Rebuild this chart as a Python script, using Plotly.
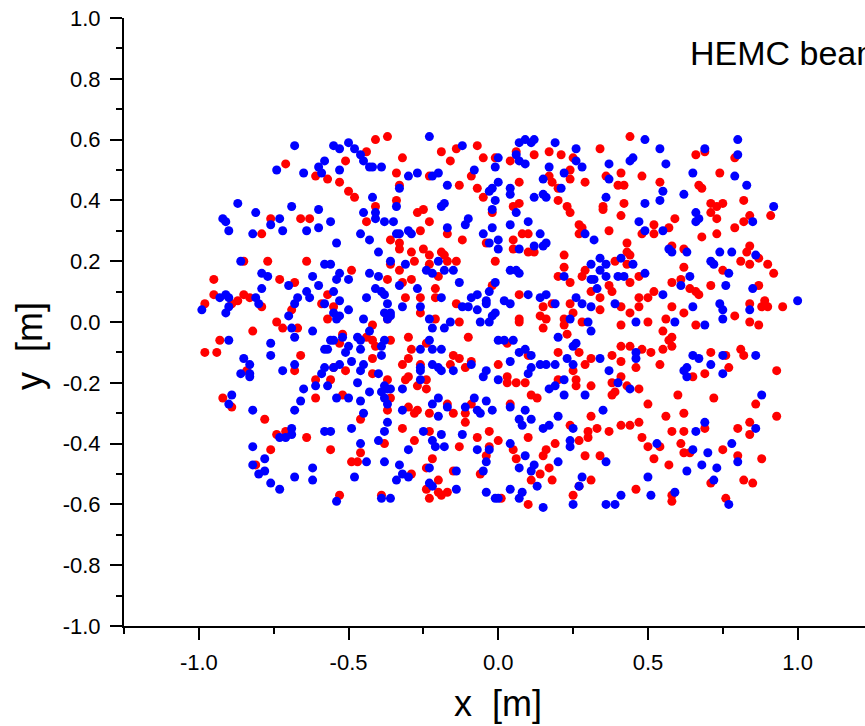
import plotly.graph_objects as go

# ---- data (x, y in metres) ----
red_x = [-0.71,-0.61,-0.57,-0.53,-0.76,-0.66,-0.63,-0.79,-0.85,-0.77,-0.64,-0.95,-0.73,-0.68,-0.95,-0.85,-0.98,-0.89,-0.87,-0.83,-0.79,-0.57,-0.59,-0.55,-0.69,
 -0.41,-0.37,-0.44,-0.51,-0.19,-0.14,-0.16,-0.07,-0.05,-0.01,-0.32,-0.34,-0.33,-0.23,-0.13,-0.09,-0.07,-0.05,-0.50,-0.48,-0.34,-0.41,-0.44,-0.27,-0.25,-0.23,-0.26,-0.17,-0.12,-0.36,-0.33,-0.33,-0.29,-0.25,-0.23,-0.28,-0.19,-0.18,-0.14,-0.17,-0.23,-0.36,-0.33,-0.49,-0.37,-0.32,-0.29,-0.20,-0.21,-0.31,-0.26,-0.21,-0.26,-0.14,-0.01,-0.02,-0.04,-0.02,
 0.06,0.04,0.12,0.17,0.21,0.25,0.34,0.44,0.24,0.29,0.24,0.17,0.18,0.20,0.20,0.07,0.36,0.41,0.40,0.42,0.48,0.07,0.05,0.23,0.24,0.35,0.35,0.42,0.41,0.27,0.28,0.27,0.37,0.48,0.08,0.10,0.05,0.05,0.10,0.12,0.22,0.22,0.20,0.24,0.29,0.28,0.39,0.43,0.43,0.44,0.43,0.47,0.44,0.37,0.38,0.31,0.34,0.47,0.50,0.41,0.47,0.44,0.34,0.24,0.25,0.18,0.15,0.14,0.07,
 0.66,0.69,0.79,0.54,0.74,0.67,0.68,0.71,0.73,0.75,0.82,0.71,0.73,0.84,0.82,0.91,0.79,0.73,0.68,0.59,0.57,0.52,0.52,0.58,0.62,0.62,0.84,0.83,0.87,0.81,0.84,0.90,0.92,0.75,0.61,0.58,0.64,0.66,0.67,0.71,0.87,0.52,0.58,0.62,0.84,0.89,0.90,0.88,0.95,
 -0.57,-0.74,-0.72,-0.67,-0.82,-0.93,-0.98,-0.94,-0.66,-0.68,-0.84,-0.61,-0.56,-0.61,-0.52,-0.92,-0.89,-0.78,-0.74,-0.71,-0.64,-0.76,-0.56,-0.81,-0.53,-0.52,-0.53,-0.51,-0.55,
 -0.42,-0.37,-0.21,-0.13,-0.44,-0.42,-0.41,-0.36,-0.30,-0.10,-0.29,-0.24,-0.42,-0.42,-0.32,-0.30,-0.26,-0.30,-0.31,-0.24,-0.27,-0.24,-0.37,-0.36,-0.37,-0.15,-0.13,-0.16,-0.09,-0.11,0.00,-0.46,-0.30,-0.28,-0.27,-0.23,-0.17,-0.15,-0.11,-0.11,-0.09,-0.32,-0.23,-0.28,-0.38,-0.13,-0.07,-0.03,0.00,-0.03,-0.04,-0.06,-0.46,-0.49,-0.47,-0.22,-0.24,-0.29,-0.15,-0.20,-0.24,-0.23,-0.20,-0.19,-0.17,-0.39,
 0.07,0.07,0.16,0.15,0.22,0.22,0.28,0.23,0.41,0.50,0.03,0.10,0.20,0.27,0.29,0.25,0.31,0.38,0.41,0.44,0.48,0.51,0.41,0.46,0.41,0.38,0.39,0.38,0.43,0.47,0.03,0.03,0.06,0.09,0.20,0.26,0.26,0.31,0.11,0.13,0.04,0.31,0.24,0.33,0.30,0.30,0.37,0.41,0.44,0.47,0.50,0.48,0.50,0.27,0.19,0.10,0.05,0.06,0.16,0.15,0.17,0.14,0.11,0.18,0.29,0.34,0.31,0.27,0.25,0.10,0.01,0.46,
 0.56,0.79,0.66,0.84,0.87,0.55,0.58,0.57,0.58,0.55,0.71,0.81,0.82,0.76,0.77,0.54,0.65,0.69,0.93,0.60,0.72,0.86,0.56,0.62,0.58,0.62,0.69,0.80,0.84,0.84,0.93,0.54,0.61,0.62,0.64,0.75,0.80,0.88,0.52,0.57,0.71,0.82,0.85,0.58,0.58,0.76]
red_y = [0.52,0.48,0.47,0.46,0.34,0.34,0.34,0.29,0.20,0.20,0.20,0.14,0.14,0.13,0.09,0.09,0.06,0.06,0.07,0.08,0.05,0.09,0.06,0.05,0.04,
 0.60,0.61,0.56,0.53,0.56,0.57,0.53,0.58,0.54,0.54,0.54,0.49,0.45,0.48,0.45,0.48,0.44,0.41,0.43,0.41,0.40,0.38,0.33,0.36,0.37,0.33,0.30,0.29,0.27,0.27,0.26,0.24,0.23,0.24,0.22,0.20,0.23,0.22,0.20,0.20,0.19,0.19,0.17,0.17,0.14,0.13,0.14,0.15,0.11,0.08,0.08,0.08,0.03,0.06,0.20,0.12,0.26,0.36,
 0.56,0.53,0.55,0.56,0.55,0.54,0.57,0.61,0.50,0.46,0.47,0.48,0.46,0.44,0.40,0.46,0.48,0.49,0.45,0.45,0.48,0.39,0.38,0.38,0.36,0.38,0.37,0.39,0.35,0.32,0.31,0.29,0.30,0.29,0.29,0.29,0.27,0.24,0.23,0.23,0.22,0.18,0.15,0.13,0.17,0.15,0.20,0.26,0.23,0.22,0.19,0.15,0.13,0.12,0.10,0.10,0.08,0.08,0.08,0.05,0.05,0.03,0.04,0.06,0.03,0.06,0.05,0.02,0.09,
 0.55,0.56,0.54,0.46,0.49,0.45,0.44,0.39,0.38,0.39,0.40,0.36,0.34,0.35,0.33,0.35,0.31,0.29,0.28,0.34,0.31,0.32,0.29,0.25,0.24,0.18,0.25,0.23,0.21,0.20,0.19,0.19,0.16,0.17,0.14,0.13,0.11,0.10,0.09,0.12,0.12,0.10,0.05,0.03,0.06,0.07,0.05,0.05,0.05,
 0.01,0.00,-0.02,-0.02,-0.03,-0.06,-0.10,-0.10,-0.11,-0.16,-0.16,-0.19,-0.19,-0.25,-0.24,-0.25,-0.28,-0.32,-0.37,-0.36,-0.38,-0.42,-0.42,-0.47,-0.57,-0.04,-0.07,-0.16,-0.15,
 -0.01,0.01,0.01,0.00,-0.05,-0.06,-0.08,-0.06,-0.05,-0.05,-0.09,-0.07,-0.12,-0.17,-0.14,-0.12,-0.14,-0.18,-0.19,-0.19,-0.21,-0.22,-0.19,-0.25,-0.29,-0.11,-0.12,-0.14,-0.13,-0.15,-0.14,-0.32,-0.28,-0.30,-0.29,-0.30,-0.27,-0.30,-0.30,-0.33,-0.27,-0.35,-0.36,-0.39,-0.40,-0.41,-0.38,-0.36,-0.39,-0.41,-0.44,-0.50,-0.43,-0.46,-0.46,-0.45,-0.48,-0.50,-0.49,-0.52,-0.55,-0.58,-0.56,-0.57,-0.56,-0.57,
 0.01,0.00,0.01,-0.02,0.01,-0.01,0.00,-0.04,-0.01,0.00,-0.07,-0.11,-0.10,-0.10,-0.14,-0.16,-0.12,-0.11,-0.08,-0.08,-0.09,-0.10,-0.13,-0.15,-0.18,-0.20,-0.23,-0.24,-0.21,-0.22,-0.18,-0.20,-0.20,-0.20,-0.19,-0.19,-0.21,-0.21,-0.24,-0.25,-0.27,-0.31,-0.34,-0.35,-0.36,-0.38,-0.36,-0.34,-0.34,-0.33,-0.27,-0.38,-0.41,-0.39,-0.40,-0.38,-0.42,-0.45,-0.42,-0.44,-0.48,-0.50,-0.52,-0.52,-0.44,-0.44,-0.52,-0.54,-0.57,-0.60,-0.58,-0.55,
 0.01,0.02,-0.01,0.00,-0.01,-0.03,-0.05,-0.06,-0.08,-0.09,-0.10,-0.09,-0.11,-0.11,-0.15,-0.14,-0.18,-0.17,-0.16,-0.24,-0.25,-0.27,-0.31,-0.30,-0.36,-0.36,-0.35,-0.35,-0.33,-0.37,-0.31,-0.41,-0.40,-0.43,-0.43,-0.42,-0.44,-0.45,-0.45,-0.47,-0.53,-0.52,-0.53,-0.57,-0.59,-0.58]

blue_x = [-0.68,-0.55,-0.53,-0.58,-0.60,-0.59,-0.53,-0.74,-0.65,-0.87,-0.81,-0.92,-0.91,-0.90,-0.76,-0.73,-0.72,-0.69,-0.60,-0.64,-0.60,-0.56,-0.82,-0.54,-0.86,-0.58,-0.56,-0.53,-0.54,-0.79,-0.77,-0.62,-0.60,-0.70,-0.79,-0.55,-0.53,-0.64,-0.63,-0.67,-0.68,-0.91,-0.93,-0.90,-0.90,-0.91,-0.99,-0.81,-0.80,-0.58,-0.55,-0.53,
 -0.50,-0.48,-0.46,-0.45,-0.43,-0.42,-0.39,-0.23,-0.12,-0.30,-0.27,-0.22,-0.20,-0.17,-0.33,-0.08,-0.01,0.00,-0.03,-0.02,-0.01,-0.02,-0.42,-0.41,-0.45,-0.41,-0.38,-0.35,-0.34,-0.19,-0.18,-0.10,-0.11,-0.17,-0.46,-0.43,-0.34,-0.33,-0.30,-0.29,-0.40,-0.36,-0.31,-0.24,-0.22,-0.20,-0.18,-0.15,-0.05,-0.02,-0.03,0.00,0.00,-0.43,-0.40,-0.41,-0.39,-0.38,-0.37,-0.36,-0.38,-0.44,-0.50,-0.33,-0.27,-0.32,-0.26,-0.19,-0.13,-0.12,-0.10,-0.09,-0.07,-0.07,-0.04,-0.03,-0.01,-0.04,-0.01,-0.50,
 0.07,0.09,0.11,0.12,0.19,0.00,0.06,0.07,0.09,0.26,0.26,0.28,0.17,0.22,0.15,0.21,0.37,0.37,0.44,0.45,0.49,0.04,0.04,0.12,0.15,0.16,0.36,0.49,0.06,0.04,0.10,0.14,0.16,0.12,0.15,0.07,0.29,0.32,0.47,0.49,0.04,0.06,0.07,0.22,0.31,0.34,0.36,0.34,0.36,0.31,0.32,0.41,0.45,0.40,0.42,0.49,0.33,0.10,0.14,0.16,0.19,0.02,0.04,0.26,0.28,0.31,0.39,
 0.80,0.54,0.69,0.80,0.56,0.65,0.79,0.83,0.55,0.54,0.62,0.92,0.66,0.67,0.66,0.85,0.55,0.57,0.58,0.63,0.74,0.78,0.71,0.72,0.77,0.86,0.64,0.61,0.76,0.85,0.55,0.65,0.74,0.75,0.84,1.00,
 -0.70,-0.54,-0.90,-0.69,-0.68,-0.62,-0.56,-0.55,-0.58,-0.57,-0.52,-0.51,-0.76,-0.76,-0.85,-0.83,-0.86,-0.83,-0.83,-0.72,-0.68,-0.58,-0.55,-0.53,-0.59,-0.61,-0.57,-0.65,-0.54,-0.66,-0.68,-0.89,-0.90,-0.82,-0.73,-0.71,-0.69,-0.69,-0.58,-0.56,-0.82,-0.78,-0.82,-0.78,-0.80,-0.76,-0.73,-0.68,-0.62,-0.62,-0.54,
 -0.45,-0.37,-0.36,-0.23,-0.22,-0.18,-0.16,-0.06,-0.03,-0.02,-0.43,-0.47,-0.46,-0.38,-0.50,-0.46,-0.39,-0.39,-0.49,-0.45,-0.46,-0.40,-0.47,-0.50,-0.46,-0.43,-0.45,-0.38,-0.37,-0.38,-0.37,-0.39,-0.36,-0.32,-0.26,-0.23,-0.22,-0.19,-0.26,-0.26,-0.26,-0.22,-0.20,-0.19,-0.15,-0.09,-0.04,-0.05,0.00,0.00,-0.32,-0.22,-0.20,-0.20,-0.17,-0.11,-0.08,-0.07,-0.06,-0.04,-0.02,-0.37,-0.38,-0.49,-0.46,-0.40,-0.25,-0.19,-0.22,-0.21,-0.18,-0.30,-0.12,-0.07,-0.03,-0.04,-0.05,-0.44,-0.38,-0.33,-0.48,-0.34,-0.32,-0.30,-0.23,-0.23,-0.22,-0.14,-0.14,-0.04,-0.01,-0.39,-0.36,
 0.24,0.30,0.31,0.46,0.02,0.05,0.07,0.09,0.11,0.04,0.11,0.10,0.14,0.16,0.19,0.20,0.26,0.25,0.23,0.25,0.34,0.37,0.46,0.46,0.17,0.19,0.22,0.22,0.29,0.40,0.44,0.04,0.09,0.11,0.07,0.08,0.20,0.17,0.15,0.25,0.35,0.24,0.24,0.04,0.09,0.07,0.12,0.11,0.20,0.36,0.28,0.27,0.13,0.04,0.08,0.07,0.00,0.15,0.25,0.36,0.39,0.41,0.50,0.51,
 0.59,0.69,0.75,0.65,0.67,0.75,0.86,0.71,0.63,0.62,0.63,0.75,0.88,0.69,0.66,0.86,0.53,0.65,0.70,0.78,0.80,0.68,0.73,0.63,0.72,0.59,0.77]
blue_y = [0.58,0.58,0.57,0.53,0.51,0.49,0.50,0.50,0.49,0.39,0.36,0.34,0.33,0.30,0.32,0.34,0.30,0.38,0.37,0.30,0.31,0.33,0.29,0.26,0.20,0.19,0.19,0.16,0.14,0.16,0.15,0.15,0.12,0.12,0.11,0.10,0.07,0.10,0.08,0.08,0.06,0.09,0.08,0.08,0.05,0.03,0.04,0.08,0.06,0.06,0.03,0.02,
 0.59,0.57,0.55,0.53,0.51,0.51,0.51,0.61,0.58,0.48,0.49,0.48,0.49,0.45,0.44,0.50,0.51,0.46,0.43,0.44,0.40,0.37,0.41,0.36,0.36,0.34,0.33,0.33,0.38,0.38,0.39,0.34,0.32,0.31,0.29,0.27,0.29,0.29,0.30,0.29,0.23,0.20,0.19,0.17,0.16,0.20,0.17,0.17,0.29,0.31,0.26,0.27,0.24,0.16,0.15,0.11,0.10,0.09,0.06,0.03,0.03,0.08,0.14,0.12,0.11,0.05,0.05,0.08,0.13,0.05,0.05,0.08,0.09,0.04,0.07,0.10,0.13,0.06,0.03,0.04,
 0.59,0.60,0.59,0.60,0.59,0.54,0.55,0.53,0.52,0.57,0.53,0.51,0.51,0.49,0.47,0.44,0.52,0.47,0.53,0.54,0.60,0.44,0.42,0.41,0.42,0.41,0.41,0.39,0.36,0.32,0.33,0.29,0.26,0.25,0.25,0.24,0.29,0.27,0.33,0.30,0.17,0.17,0.16,0.15,0.19,0.21,0.19,0.17,0.15,0.14,0.14,0.21,0.19,0.15,0.15,0.16,0.11,0.09,0.08,0.09,0.06,0.07,0.06,0.08,0.06,0.05,0.06,
 0.60,0.57,0.57,0.55,0.52,0.49,0.48,0.45,0.43,0.40,0.42,0.38,0.36,0.34,0.33,0.33,0.30,0.24,0.23,0.23,0.23,0.23,0.20,0.19,0.16,0.22,0.15,0.12,0.12,0.11,0.09,0.05,0.06,0.04,0.04,0.07,
 0.02,0.01,-0.06,-0.02,-0.05,-0.03,-0.06,-0.06,-0.09,-0.09,-0.05,-0.10,-0.07,-0.11,-0.12,-0.14,-0.17,-0.17,-0.18,-0.16,-0.14,-0.15,-0.15,-0.14,-0.17,-0.21,-0.21,-0.22,-0.25,-0.26,-0.29,-0.24,-0.27,-0.29,-0.38,-0.38,-0.35,-0.37,-0.36,-0.36,-0.41,-0.45,-0.47,-0.49,-0.50,-0.53,-0.55,-0.51,-0.48,-0.52,-0.59,
 0.01,0.01,0.02,0.01,-0.02,-0.02,0.00,0.00,0.00,0.02,-0.03,-0.05,-0.06,-0.06,-0.08,-0.09,-0.08,-0.11,-0.13,-0.14,-0.16,-0.17,-0.20,-0.25,-0.26,-0.23,-0.30,-0.21,-0.22,-0.25,-0.27,-0.23,-0.22,-0.22,-0.09,-0.06,-0.09,-0.09,-0.15,-0.16,-0.19,-0.14,-0.15,-0.16,-0.16,-0.14,-0.16,-0.18,-0.19,-0.06,-0.29,-0.27,-0.25,-0.31,-0.28,-0.28,-0.25,-0.29,-0.30,-0.26,-0.29,-0.33,-0.36,-0.35,-0.40,-0.39,-0.36,-0.37,-0.39,-0.41,-0.41,-0.42,-0.37,-0.42,-0.42,-0.46,-0.49,-0.46,-0.46,-0.47,-0.51,-0.52,-0.50,-0.51,-0.48,-0.53,-0.54,-0.49,-0.55,-0.56,-0.58,-0.58,-0.58,
 0.01,0.00,-0.03,0.00,-0.06,-0.06,-0.10,-0.09,-0.11,-0.13,-0.15,-0.17,-0.14,-0.14,-0.14,-0.05,-0.07,-0.08,-0.12,-0.14,-0.12,-0.16,-0.10,-0.12,-0.22,-0.21,-0.19,-0.24,-0.24,-0.20,-0.22,-0.28,-0.29,-0.32,-0.32,-0.34,-0.31,-0.34,-0.35,-0.35,-0.29,-0.39,-0.41,-0.40,-0.44,-0.48,-0.47,-0.49,-0.46,-0.46,-0.51,-0.54,-0.54,-0.55,-0.56,-0.58,-0.58,-0.61,-0.60,-0.60,-0.60,-0.57,-0.51,-0.57,
 0.00,-0.01,0.01,-0.11,-0.12,-0.11,-0.11,-0.14,-0.15,-0.16,-0.18,-0.17,-0.24,-0.33,-0.36,-0.35,-0.40,-0.42,-0.43,-0.40,-0.46,-0.47,-0.48,-0.49,-0.52,-0.56,-0.60]

x_tick_vals = [-1.0, -0.5, 0.0, 0.5, 1.0]
x_tick_text = ["-1.0", "-0.5", "0.0", "0.5", "1.0"]
y_tick_vals = [-1.0, -0.8, -0.6, -0.4, -0.2, 0.0, 0.2, 0.4, 0.6, 0.8, 1.0]
y_tick_text = ["-1.0", "-0.8", "-0.6", "-0.4", "-0.2", "0.0", "0.2", "0.4", "0.6", "0.8", "1.0"]
x_minor = [-1.25, -0.75, -0.25, 0.25, 0.75]
y_minor = [-0.9, -0.7, -0.5, -0.3, -0.1, 0.1, 0.3, 0.5, 0.7, 0.9]

FONT = "Arial, Liberation Sans, sans-serif"

fig = go.Figure()
fig.add_trace(go.Scatter(x=red_x, y=red_y, mode="markers",
                         marker=dict(color="#FF0000", size=9, line=dict(width=0)),
                         showlegend=False, hoverinfo="skip"))
fig.add_trace(go.Scatter(x=blue_x, y=blue_y, mode="markers",
                         marker=dict(color="#0000FF", size=9, line=dict(width=0)),
                         showlegend=False, hoverinfo="skip"))

axis_common = dict(showline=True, linecolor="black", linewidth=2, showgrid=False,
                   zeroline=False, ticks="outside", ticklen=12, tickwidth=2,
                   tickcolor="black", tickfont=dict(family=FONT, size=22, color="black"))

fig.update_xaxes(range=[-1.25, 1.225], tickmode="array", tickvals=x_tick_vals,
                 ticktext=x_tick_text, ticklabelstandoff=4,
                 minor=dict(tickmode="array", tickvals=x_minor, ticks="outside",
                            ticklen=6, tickwidth=2, tickcolor="black"),
                 **axis_common)
fig.update_yaxes(range=[-1.0, 1.0], tickmode="array", tickvals=y_tick_vals,
                 ticktext=y_tick_text, ticklabelstandoff=5,
                 minor=dict(tickmode="array", tickvals=y_minor, ticks="outside",
                            ticklen=6, tickwidth=2, tickcolor="black"),
                 **axis_common)

fig.update_layout(
    width=865, height=726,
    margin=dict(l=124, r=0, t=18, b=100, autoexpand=False),
    paper_bgcolor="white", plot_bgcolor="white",
    font=dict(family=FONT, color="black"),
    annotations=[
        dict(text="HEMC beam", xref="paper", yref="paper",
             x=(688 - 124) / 741, y=(626 - 53) / 608, xanchor="left", yanchor="middle",
             showarrow=False, font=dict(family=FONT, size=34, color="black")),
        dict(text="x  [m]", xref="paper", yref="paper",
             x=(498 - 124) / 741, y=(626 - 703) / 608, xanchor="center", yanchor="middle",
             showarrow=False, font=dict(family=FONT, size=36, color="black")),
        dict(text="y  [m]", xref="paper", yref="paper", textangle=-90,
             x=(29 - 124) / 741, y=(626 - 346) / 608, xanchor="center", yanchor="middle",
             showarrow=False, font=dict(family=FONT, size=36, color="black")),
    ],
)

fig.write_html("out.html")
